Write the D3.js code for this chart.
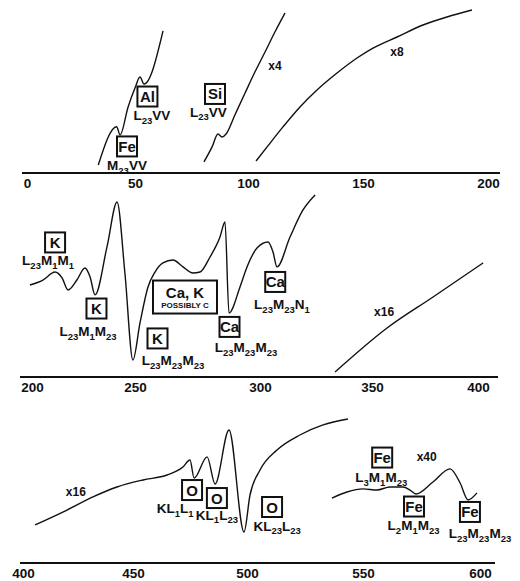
<!DOCTYPE html>
<html>
<head>
<meta charset="utf-8">
<script src="https://cdnjs.cloudflare.com/ajax/libs/d3/7.8.5/d3.min.js"></script>
<style>
  html, body { margin: 0; padding: 0; background: #fff; }
  svg { display: block; }
  text { font-family: "Liberation Sans", Arial, Helvetica, sans-serif; font-weight: bold; fill: #111; }
</style>
</head>
<body>
<svg id="chart" width="520" height="581"></svg>
<script>
// Auger electron spectrum, dN/dE (arbitrary units) versus electron energy (eV),
// split over three energy ranges.

// ---- tick labels per panel (eV) ----
const ticks1 = [0, 50, 100, 150, 200];
const ticks2 = [200, 250, 300, 350, 400];
const ticks3 = [400, 450, 500, 550, 600];

// ---- spectrum traces: [energy eV, intensity a.u.] ----
// 0 – 200 eV
const lowFeAl = [[33.0,5],[41.5,28.9],[43.1,23.8],[46.8,41.3],[50,53.1],[52.2,60],[54,55.6],[62.4,88.8]];
const lowSi = [[80.5,6.9],[84.1,16.3],[86.7,24.4],[88.5,22.5],[90.3,24.4],[94.2,36.3],[98.7,50],[103,63.1],[107.4,75.6],[111.7,88.1],[116.1,100]];
const lowX8 = [[103.5,7.5],[108.3,16.3],[115.2,28.8],[122.6,41.3],[130,51.9],[138.7,62.5],[147.4,71.9],[154,78.1],[163.6,85],[174,92.5],[183.6,97.5],[193.6,101.9]];
// 200 – 400 eV
const midKCa = [[199,57.5],[205.3,60.6],[211.2,65.6],[214.6,61.9],[217.5,54.4],[221.8,60.6],[225.7,68.1],[228.2,62.5],[230.6,51.3],[236.4,81.3],[241.3,109.4],[245.1,65],[249,10.6],[252,33.8],[255.2,56.3],[258,65.6],[261.2,71.3],[265.2,73.1],[269.2,68.8],[273.2,65],[276,65.6],[280,75],[284,87.5],[286,96.9],[287.6,40],[292,56.3],[294.8,68.8],[298.8,80.6],[303.6,84.4],[305.8,78.1],[307.6,68.8],[313.4,87.5],[319.2,104.4],[324.6,113.8]];
const midX16 = [[333.5,3.1],[357.1,30.6],[378.8,50],[402.4,71.3]];
// 400 – 600 eV
const highO = [[405.5,23.8],[420,33.1],[431.8,41.3],[442.7,47.5],[454.4,51.9],[464.9,55],[471.9,60],[475,64.4],[476.8,53.1],[482.5,66.3],[486,49.4],[492.1,83.1],[498.7,19.4],[501.3,42.5],[505.6,58.1],[512.9,70.6],[522.8,80],[532.8,86.3],[543.5,90]];
const highFe = [[536.6,40.6],[543.1,44.4],[550,46.3],[556,45.6],[561.5,47.5],[567.1,47.5],[570.1,45.6],[572.6,43.1],[579.9,50.6],[587.2,58.8],[591.5,50],[594.9,39.4],[598.7,43.8]];

// ---- peak assignments: [element, transition, box eV, box level, text eV, text level] ----
const peaks1 = [
  ["Al", "L23VV", 55.5, 47.8, 57.5, 34.7],
  ["Fe", "M23VV", 46.3, 16.6, 46.3, 3.6],
  ["Si", "L23VV", 85.4, 49.4, 82.5, 36.9]
];
const peaks2 = [
  ["K",  "L23M1M1",   211.2, 84.1, 207.8, 71.8],
  ["K",  "L23M1M23",  231.3, 42.8, 227.2, 27.5],
  ["K",  "L23M23M23", 259.0, 24.1, 265.2, 9.3],
  ["Ca", "L23M23M23", 287.8, 31.3, 294.4, 17.5],
  ["Ca", "L23M23N1",  306.8, 59.4, 309.8, 44.3]
];
const peaks3 = [
  ["O",  "KL1L1",     475.9, 45.6, 468.5, 33.1],
  ["O",  "KL1L23",    486.8, 40.6, 486.8, 28.8],
  ["O",  "KL23L23",   510.8, 35.0, 513.0, 21.9],
  ["Fe", "L3M1M23",   558.2, 65.9, 557.8, 52.5],
  ["Fe", "L2M1M23",   571.8, 35.3, 571.6, 22.5],
  ["Fe", "L23M23M23", 595.7, 31.9, 600.0, 17.5]
];
// gain factors: [text, eV, level]
const gains1 = [["x4", 111.7, 67], ["x8", 163.6, 75.6]];
const gains2 = [["x16", 355.7, 40.6]];
const gains3 = [["x16", 424.0, 44.4], ["x40", 577.2, 66.3]];

const svg = d3.select("#chart");

// each panel: its own (hand-plotted, slightly uneven) energy scale and baseline
const panels = [
  { ticks: ticks1, xr: [27, 135, 248, 363, 488], base: 173, ext: [-5, 12],
    traces: [lowFeAl, lowSi, lowX8], peaks: peaks1, gains: gains1 },
  { ticks: ticks2, xr: [32, 135, 260, 372, 478], base: 377, ext: [-12, 20],
    traces: [midKCa, midX16], peaks: peaks2, gains: gains2, extra: true },
  { ticks: ticks3, xr: [23, 133, 247, 363, 480], base: 563, ext: [-3, 15],
    traces: [highO, highFe], peaks: peaks3, gains: gains3 }
];

// transition names: digits become subscripts
function transition(sel, label) {
  const parts = label.match(/[A-Za-z]+|\d+/g);
  let sub = false;
  parts.forEach(p => {
    const isNum = /\d/.test(p);
    const t = sel.append("tspan").text(p);
    if (isNum) {
      t.attr("font-size", 9.5).attr("dy", sub ? 0 : 3.5);
      sub = true;
    } else {
      t.attr("font-size", 13.5).attr("dy", sub ? -3.5 : 0);
      sub = false;
    }
  });
}

panels.forEach(p => {
  const x = d3.scaleLinear().domain(p.ticks).range(p.xr);
  const y = d3.scaleLinear().domain([0, 100]).range([p.base, p.base - 160]);
  const g = svg.append("g");

  // baseline
  g.append("line")
    .attr("x1", p.xr[0] + p.ext[0]).attr("x2", p.xr[4] + p.ext[1])
    .attr("y1", p.base).attr("y2", p.base)
    .attr("stroke", "#111").attr("stroke-width", 2.2);

  const axis = d3.axisBottom(x).tickValues(p.ticks).tickSize(0).tickPadding(5).tickFormat(d3.format("d"));
  const ag = g.append("g").attr("transform", `translate(0,${p.base})`).call(axis);
  ag.select(".domain").remove();
  ag.selectAll("text").attr("font-size", 13.5).attr("font-family", null).attr("fill", "#111");

  // traces
  const line = d3.line().x(d => x(d[0])).y(d => y(d[1])).curve(d3.curveMonotoneX);
  p.traces.forEach(tr => {
    g.append("path").datum(tr).attr("d", line)
      .attr("fill", "none").attr("stroke", "#111").attr("stroke-width", 1.4)
      .attr("stroke-linejoin", "round");
  });

  // element boxes and transition names
  p.peaks.forEach(([el, tr, be, bl, te, tl]) => {
    const cx = x(be), cy = y(bl);
    g.append("rect").attr("x", cx - 10).attr("y", cy - 10).attr("width", 20).attr("height", 20)
      .attr("fill", "#fff").attr("stroke", "#111").attr("stroke-width", 2);
    g.append("text").attr("x", cx).attr("y", cy + 5.5).attr("text-anchor", "middle")
      .attr("font-size", 15).text(el);
    const t = g.append("text").attr("x", x(te)).attr("y", y(tl) + 3).attr("text-anchor", "middle");
    transition(t, tr);
  });

  p.gains.forEach(([txt, e, l]) => {
    g.append("text").attr("x", x(e)).attr("y", y(l) + 4).attr("text-anchor", "middle")
      .attr("font-size", 12).text(txt);
  });

  // uncertain assignment in the 200–400 eV range
  if (p.extra) {
    const cx = x(270), cy = y(50.3);
    g.append("rect").attr("x", cx - 32).attr("y", cy - 16).attr("width", 64).attr("height", 33)
      .attr("fill", "#fff").attr("stroke", "#111").attr("stroke-width", 2);
    g.append("text").attr("x", cx).attr("y", cy + 1).attr("text-anchor", "middle")
      .attr("font-size", 15).text("Ca, K");
    g.append("text").attr("x", cx).attr("y", cy + 11).attr("text-anchor", "middle")
      .attr("font-size", 8).text("POSSIBLY C");
  }
});
</script>
</body>
</html>
